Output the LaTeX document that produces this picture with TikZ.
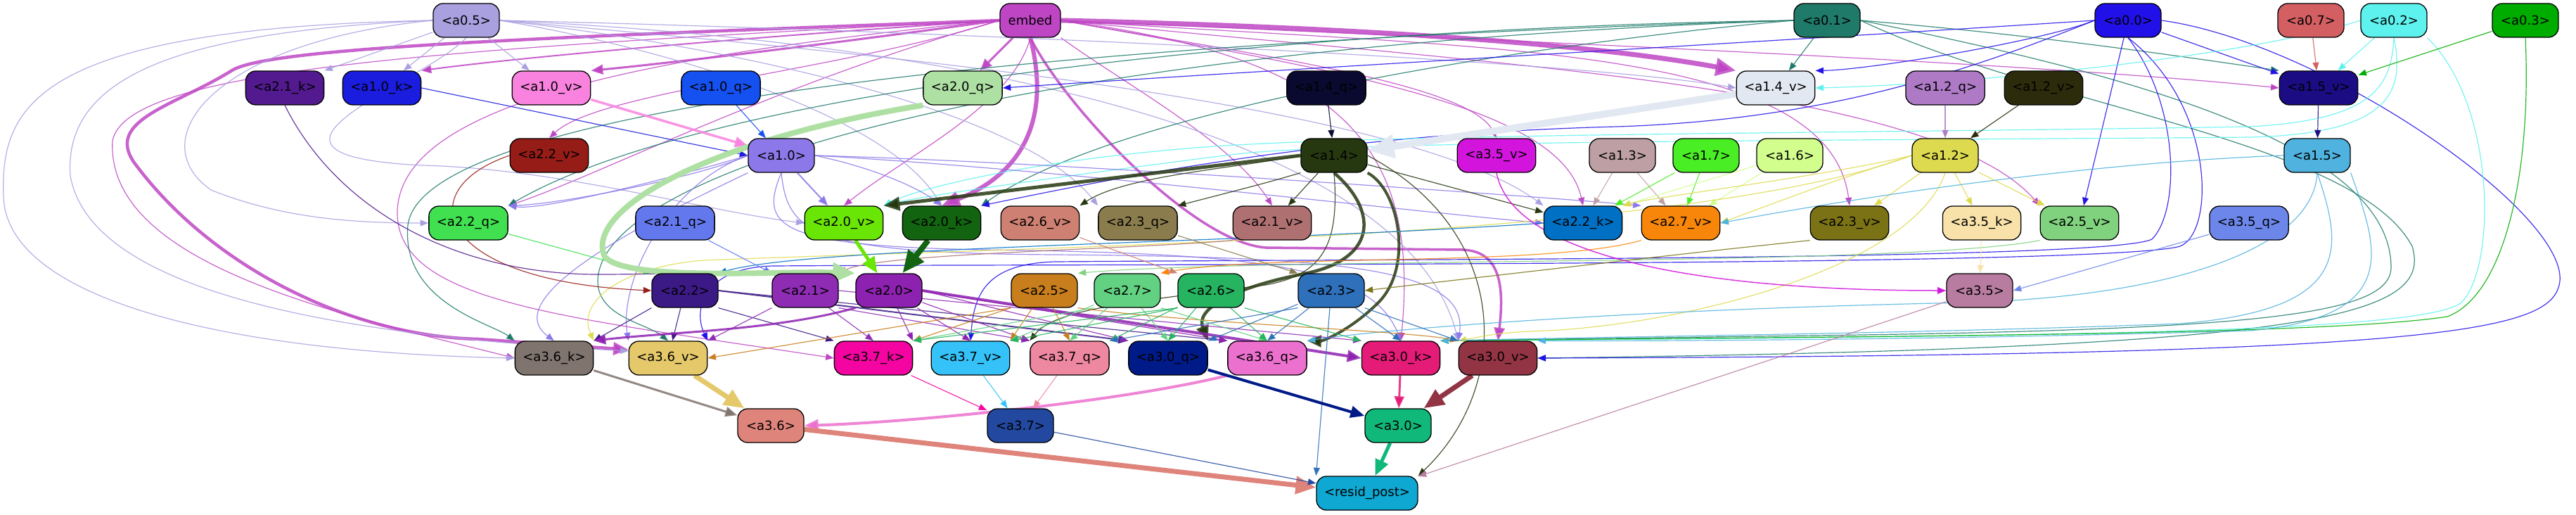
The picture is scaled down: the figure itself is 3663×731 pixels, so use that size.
\documentclass[tikz,border=0pt]{standalone}
\usepackage{fontspec}
\setmainfont{DejaVu Sans}
\usetikzlibrary{arrows.meta}
\pgfdeclarelayer{bg}
\pgfsetlayers{bg,main}
\definecolor{cA05}{HTML}{A9A0E0}
\definecolor{cEmb}{HTML}{BE46C4}
\definecolor{cA01}{HTML}{1F7A6A}
\definecolor{cA00}{HTML}{2210E8}
\definecolor{cA07}{HTML}{D45F63}
\definecolor{cA02}{HTML}{5EF2EE}
\definecolor{cA03}{HTML}{00AC00}
\definecolor{cA21k}{HTML}{521A8E}
\definecolor{cA10k}{HTML}{1A1CDE}
\definecolor{cA10v}{HTML}{F882DE}
\definecolor{cA10q}{HTML}{1550F0}
\definecolor{cA20q}{HTML}{AEE0A4}
\definecolor{cA14q}{HTML}{0A0A30}
\definecolor{cA14v}{HTML}{E2E8F2}
\definecolor{cA12q}{HTML}{AE7AC6}
\definecolor{cA12v}{HTML}{2C2C0C}
\definecolor{cA15v}{HTML}{1C0C84}
\definecolor{cA22v}{HTML}{961C18}
\definecolor{cA10}{HTML}{8C78E8}
\definecolor{cA14}{HTML}{263810}
\definecolor{cA35v}{HTML}{D214DC}
\definecolor{cA13}{HTML}{BEA0A4}
\definecolor{cA17}{HTML}{4AEE24}
\definecolor{cA16}{HTML}{D2FE8E}
\definecolor{cA12}{HTML}{DEDA50}
\definecolor{cA15}{HTML}{50B2DE}
\definecolor{cA22q}{HTML}{40E050}
\definecolor{cA21q}{HTML}{6478EE}
\definecolor{cA20v}{HTML}{6AE606}
\definecolor{cA20k}{HTML}{126410}
\definecolor{cA26v}{HTML}{CE8072}
\definecolor{cA23q}{HTML}{8A7C4C}
\definecolor{cA21v}{HTML}{AE7070}
\definecolor{cA22k}{HTML}{0070C4}
\definecolor{cA27v}{HTML}{F8860A}
\definecolor{cA23v}{HTML}{7A7214}
\definecolor{cA35k}{HTML}{F8E2AA}
\definecolor{cA25v}{HTML}{80D27E}
\definecolor{cA35q}{HTML}{6C86EA}
\definecolor{cA22}{HTML}{3C1A86}
\definecolor{cA21}{HTML}{8E2CB4}
\definecolor{cA20}{HTML}{8E22B0}
\definecolor{cA25}{HTML}{C87E1C}
\definecolor{cA27}{HTML}{62D282}
\definecolor{cA26}{HTML}{26B460}
\definecolor{cA23}{HTML}{2E70BA}
\definecolor{cA35}{HTML}{B87CA0}
\definecolor{cA36k}{HTML}{80746E}
\definecolor{cA36v}{HTML}{E4C86A}
\definecolor{cA37k}{HTML}{F404A0}
\definecolor{cA37v}{HTML}{34C2F8}
\definecolor{cA37q}{HTML}{EE88A0}
\definecolor{cA30q}{HTML}{001A88}
\definecolor{cA36q}{HTML}{EC70CE}
\definecolor{cA30k}{HTML}{E41C78}
\definecolor{cA30v}{HTML}{923444}
\definecolor{cA36}{HTML}{DE847A}
\definecolor{cA37}{HTML}{2248A0}
\definecolor{cA30}{HTML}{10B87A}
\definecolor{cRes}{HTML}{0EA8D2}
\tikzset{
  box/.style={draw=black, line width=1.3pt, rounded corners=14pt, minimum width=94pt,
    minimum height=48pt, inner xsep=11pt, inner ysep=0pt, text=black,
    font=\fontsize{18}{21}\selectfont},
  e/.style={-{Triangle[length=8pt 3,width=6pt 2.6]}, line width=1.2pt, draw opacity=0.85},
}
\begin{document}
\begin{tikzpicture}[x=1pt,y=-1pt]
\useasboundingbox (0,0) rectangle (3663,731);
% row 1
\node[box,fill=cA05] (a05) at (663,29) {<a0.5>};
\node[box,fill=cEmb,minimum width=86pt] (emb) at (1465,29) {embed};
\node[box,fill=cA01] (a01) at (2598,29) {<a0.1>};
\node[box,fill=cA00] (a00) at (3026,29) {<a0.0>};
\node[box,fill=cA07] (a07) at (3286,29) {<a0.7>};
\node[box,fill=cA02] (a02) at (3404,29) {<a0.2>};
\node[box,fill=cA03] (a03) at (3591,29) {<a0.3>};
% row 2
\node[box,fill=cA21k] (a21k) at (405,125) {<a2.1\_k>};
\node[box,fill=cA10k] (a10k) at (543,125) {<a1.0\_k>};
\node[box,fill=cA10v] (a10v) at (784,125) {<a1.0\_v>};
\node[box,fill=cA10q] (a10q) at (1025,125) {<a1.0\_q>};
\node[box,fill=cA20q] (a20q) at (1369,125) {<a2.0\_q>};
\node[box,fill=cA14q] (a14q) at (1886,125) {<a1.4\_q>};
\node[box,fill=cA14v] (a14v) at (2525,125) {<a1.4\_v>};
\node[box,fill=cA12q] (a12q) at (2766,125) {<a1.2\_q>};
\node[box,fill=cA12v] (a12v) at (2906,125) {<a1.2\_v>};
\node[box,fill=cA15v] (a15v) at (3297,125) {<a1.5\_v>};
% row 3
\node[box,fill=cA22v] (a22v) at (781,221) {<a2.2\_v>};
\node[box,fill=cA10] (a10) at (1111,221) {<a1.0>};
\node[box,fill=cA14] (a14) at (1897,221) {<a1.4>};
\node[box,fill=cA35v] (a35v) at (2128,221) {<a3.5\_v>};
\node[box,fill=cA13] (a13) at (2307,221) {<a1.3>};
\node[box,fill=cA17] (a17) at (2426,221) {<a1.7>};
\node[box,fill=cA16] (a16) at (2545,221) {<a1.6>};
\node[box,fill=cA12] (a12) at (2766,221) {<a1.2>};
\node[box,fill=cA15] (a15) at (3295,221) {<a1.5>};
% row 4
\node[box,fill=cA22q] (a22q) at (666,317) {<a2.2\_q>};
\node[box,fill=cA21q] (a21q) at (960,317) {<a2.1\_q>};
\node[box,fill=cA20v] (a20v) at (1200,317) {<a2.0\_v>};
\node[box,fill=cA20k] (a20k) at (1339,317) {<a2.0\_k>};
\node[box,fill=cA26v] (a26v) at (1479,317) {<a2.6\_v>};
\node[box,fill=cA23q] (a23q) at (1618,317) {<a2.3\_q>};
\node[box,fill=cA21v] (a21v) at (1809,317) {<a2.1\_v>};
\node[box,fill=cA22k] (a22k) at (2251,317) {<a2.2\_k>};
\node[box,fill=cA27v] (a27v) at (2390,317) {<a2.7\_v>};
\node[box,fill=cA23v] (a23v) at (2630,317) {<a2.3\_v>};
\node[box,fill=cA35k] (a35k) at (2818,317) {<a3.5\_k>};
\node[box,fill=cA25v] (a25v) at (2957,317) {<a2.5\_v>};
\node[box,fill=cA35q] (a35q) at (3198,317) {<a3.5\_q>};
% row 5
\node[box,fill=cA22] (a22) at (974,413) {<a2.2>};
\node[box,fill=cA21] (a21) at (1145,413) {<a2.1>};
\node[box,fill=cA20] (a20) at (1264,413) {<a2.0>};
\node[box,fill=cA25] (a25) at (1485,413) {<a2.5>};
\node[box,fill=cA27] (a27) at (1603,413) {<a2.7>};
\node[box,fill=cA26] (a26) at (1722,413) {<a2.6>};
\node[box,fill=cA23] (a23) at (1893,413) {<a2.3>};
\node[box,fill=cA35] (a35) at (2815,413) {<a3.5>};
% row 6
\node[box,fill=cA36k] (a36k) at (788,509) {<a3.6\_k>};
\node[box,fill=cA36v] (a36v) at (950,509) {<a3.6\_v>};
\node[box,fill=cA37k] (a37k) at (1242,509) {<a3.7\_k>};
\node[box,fill=cA37v] (a37v) at (1380,509) {<a3.7\_v>};
\node[box,fill=cA37q] (a37q) at (1521,509) {<a3.7\_q>};
\node[box,fill=cA30q] (a30q) at (1661,509) {<a3.0\_q>};
\node[box,fill=cA36q] (a36q) at (1802,509) {<a3.6\_q>};
\node[box,fill=cA30k] (a30k) at (1992,509) {<a3.0\_k>};
\node[box,fill=cA30v] (a30v) at (2130,509) {<a3.0\_v>};
% row 7-8
\node[box,fill=cA36] (a36) at (1096,605) {<a3.6>};
\node[box,fill=cA37] (a37) at (1451,605) {<a3.7>};
\node[box,fill=cA30] (a30) at (1988,605) {<a3.0>};
\node[box,fill=cRes] (res) at (1944,701) {<resid\_post>};

\begin{pgfonlayer}{bg}
% ---- embed
\draw[e,cEmb,line width=3pt] (emb) -- (a20q);
\draw[e,cEmb,line width=6pt] (emb.south) .. controls (1490,150) and (1470,240) .. (a20k.north);
\draw[e,cEmb,line width=3.5pt] (emb.south) .. controls (1520,160) and (1700,345) .. (1800,352) -- (2080,355) .. controls (2130,357) and (2140,400) .. (a30v.north);
\draw[e,cEmb,line width=7pt] (emb.east) .. controls (1900,38) and (2250,60) .. (a14v.north west);
\draw[e,cEmb,line width=4.5pt] (emb.west) .. controls (700,55) and (380,70) .. (330,100) .. controls (250,150) and (150,170) .. (190,230) .. controls (300,380) and (500,478) .. (680,482) -- ([yshift=12pt]a36v.west);
\draw[e,cEmb,line width=3pt] (emb.west) .. controls (1200,60) and (950,90) .. (a10v.north east);
\draw[e,cEmb,line width=2pt] (emb.west) .. controls (1100,50) and (750,80) .. (a10k.north east);
\draw[e,cEmb] (emb.west) .. controls (1200,100) and (850,130) .. (a22v.north);
\draw[e,cEmb] (emb.west) .. controls (1100,120) and (850,250) .. (a22q.north east);
\draw[e,cEmb] (emb.south) .. controls (1440,150) and (1290,220) .. (a20v.north);
\draw[e,cEmb] (emb.south east) .. controls (1600,120) and (1750,200) .. (a21v.north);
\draw[e,cEmb] (emb.east) .. controls (1800,80) and (2090,120) .. (a35v.north);
\draw[e,cEmb] (emb.east) .. controls (1900,100) and (2220,150) .. (a22k.north);
\draw[e,cEmb] (emb.east) .. controls (2100,70) and (2600,60) .. (a23v.north);
\draw[e,cEmb] (emb.east) .. controls (2100,90) and (2750,120) .. (a25v.north west);
\draw[e,cEmb] (emb.east) .. controls (2200,60) and (2900,90) .. (a15v.west);
\draw[e,cEmb] (emb.east) .. controls (1900,80) and (2020,200) .. (a30k.north);
\draw[e,cEmb] (emb.west) .. controls (600,70) and (180,100) .. (160,200) .. controls (150,380) and (500,450) .. (a36k.west);
\draw[e,cEmb] (emb.west) .. controls (900,80) and (570,150) .. (565,300) .. controls (562,430) and (800,450) .. (a37k.west);
% ---- a0.5
\draw[e,cA05] (a05) -- (a21k.north east);
\draw[e,cA05] (a05) -- (a10k);
\draw[e,cA05] (a05) -- (a10v);
\draw[e,cA05] (a05.west) .. controls (50,40) and (0,150) .. (5,280) .. controls (10,420) and (300,500) .. (a36k.west);
\draw[e,cA05] (a05.west) .. controls (250,45) and (90,110) .. (100,250) .. controls (130,420) and (500,478) .. ([yshift=10pt]a36v.west);
\draw[e,cA05] (a05.west) .. controls (300,60) and (200,200) .. (300,270) .. controls (400,310) and (500,317) .. (a22q.west);
\draw[e,cA05] (a05.south) .. controls (600,120) and (300,220) .. (600,235) .. controls (800,240) and (1000,300) .. (a20v.west);
\draw[e,cA05] (a05.east) .. controls (1200,40) and (2200,80) .. (a14v.west);
\draw[e,cA05] (a05.east) .. controls (1000,60) and (1450,150) .. (a23q.north west);
\draw[e,cA05] (a05.east) .. controls (1300,80) and (2000,150) .. (a22k.north west);
\draw[e,cA05] (a05.east) .. controls (900,60) and (1250,150) .. (a20k.north);
\draw[e,cA05] (a05.east) .. controls (1400,60) and (2000,200) .. (a30v.north west);
% ---- a0.1
\draw[e,cA01] (a01) -- (a14v);
\draw[e,cA01] (a01.west) .. controls (1800,40) and (1000,130) .. (a22q.north east);
\draw[e,cA01] (a01.west) .. controls (2200,60) and (1600,150) .. (a20k.north east);
\draw[e,cA01] (a01.east) .. controls (2900,50) and (3100,80) .. (a15v.north west);
\draw[e,cA01] (a01.west) .. controls (1500,60) and (600,150) .. (580,320) .. controls (570,430) and (700,460) .. (a36k.north west);
\draw[e,cA01] (a01.west) .. controls (1400,70) and (850,250) .. (850,400) .. controls (850,450) and (920,460) .. (a36v.north);
\draw[e,cA01] (a01.east) .. controls (3000,100) and (3400,200) .. (3400,380) .. controls (3400,450) and (3200,470) .. (2500,478) -- (a30k.north east);
\draw[e,cA01] (a01.east) .. controls (2900,150) and (3350,200) .. (3430,350) .. controls (3460,450) and (3300,495) .. (a30v.east);
% ---- a0.0
\draw[e,cA00] (a00.west) .. controls (2900,60) and (2650,100) .. (a14v.north east);
\draw[e,cA00] (a00.west) .. controls (2500,60) and (1800,100) .. (a20q.east);
\draw[e,cA00] (a00.west) .. controls (2800,100) and (2600,170) .. (2300,180) .. controls (1900,190) and (1600,250) .. (a20k.north east);
\draw[e,cA00] (a00) -- (a15v);
\draw[e,cA00] (a00) -- (a25v);
\draw[e,cA00] (a00.east) .. controls (3300,60) and (3650,300) .. (3640,400) .. controls (3630,470) and (3500,505) .. (a30v.east);
\draw[e,cA00] (a00.south) .. controls (3100,150) and (3100,300) .. (3060,340) .. controls (3000,370) and (2000,368) .. (1500,372) .. controls (1400,375) and (1385,420) .. (a37v.north);
\draw[e,cA00] (a00.south) .. controls (3150,150) and (3150,330) .. (3100,350) .. controls (3000,380) and (1500,375) .. (1100,378) .. controls (1000,380) and (985,440) .. (a36v.north east);
% ---- a0.7, a0.2, a0.3
\draw[e,cA07] (a07) -- (a15v);
\draw[e,cA02] (a02) -- (a15v);
\draw[e,cA02] (a02.west) .. controls (3200,80) and (2800,120) .. (a14v.east);
\draw[e,cA02] (a02.south) .. controls (3400,120) and (3380,170) .. (3200,180) .. controls (2600,190) and (1950,190) .. (1700,210) .. controls (1450,230) and (1300,270) .. (a20v.north east);
\draw[e,cA02] (a02.south) .. controls (3420,130) and (3400,190) .. (3200,195) .. controls (2600,200) and (1900,200) .. (1750,220) .. controls (1550,245) and (1300,280) .. (a20v.north east);
\draw[e,cA02] (a02.south east) .. controls (3550,150) and (3550,380) .. (3500,430) .. controls (3450,470) and (3000,478) .. (a30k.north east);
\draw[e,cA03] (a03) -- (a15v);
\draw[e,cA03] (a03.south) .. controls (3600,250) and (3560,420) .. (3480,450) .. controls (3300,478) and (2600,478) .. (a30k.north east);
% ---- layer-1 inputs
\draw[e,cA10k] (a10k.east) -- (a10.west);
\draw[e,cA10v,line width=3.5pt] (a10v) -- (a10);
\draw[e,cA10q] (a10q) -- (a10);
\draw[e,cA14q] (a14q) -- (a14);
\draw[e,cA14v,line width=10pt,draw opacity=1] (a14v) -- (a14);
\draw[e,cA12q] (a12q) -- (a12);
\draw[e,cA12v] (a12v) -- (a12);
\draw[e,cA15v] (a15v) -- (a15);
% ---- a1.0
\draw[e,cA10,line width=2pt] (a10) -- (a20v);
\draw[e,cA10] (a10.west) .. controls (1000,250) and (800,290) .. (a22q.north east);
\draw[e,cA10] (a10.west) .. controls (1000,240) and (780,300) .. (a22q.north east);
\draw[e,cA10] (a10.south west) .. controls (950,300) and (700,420) .. (a36k.north);
\draw[e,cA10] (a10.west) .. controls (950,260) and (880,400) .. (a36v.north west);
\draw[e,cA10] (a10.east) .. controls (1250,240) and (1310,270) .. (a20k.north);
\draw[e,cA10] (a10.east) .. controls (1500,240) and (2000,300) .. (a22k.west);
\draw[e,cA10] (a10.east) .. controls (1500,230) and (2200,280) .. (a27v.north west);
\draw[e,cA10] (a10.south) .. controls (1080,320) and (1100,350) .. (1400,355) .. controls (1800,360) and (1950,380) .. (a30k.north);
\draw[e,cA10] (a10.south) .. controls (1120,330) and (1150,360) .. (1500,362) .. controls (1900,365) and (2090,380) .. (a30v.north west);
% ---- a1.4
\draw[e,cA14,line width=5pt] (a14.west) -- (a20v.north east);
\draw[e,cA14] (a14.west) .. controls (1750,240) and (1600,250) .. (a26v.north east);
\draw[e,cA14] (a14.south west) .. controls (1800,260) .. (a23q.north east);
\draw[e,cA14] (a14) -- (a21v);
\draw[e,cA14] (a14) -- (a22k);
\draw[e,cA14,line width=4.5pt] (a14.south) .. controls (1960,300) and (1960,370) .. (1850,390) .. controls (1750,410) and (1700,440) .. (a30q.north east);
\draw[e,cA14,line width=4pt] (a14.south east) .. controls (1990,270) and (2010,380) .. (1960,430) .. controls (1920,470) and (1880,485) .. (a36q.north east);
\draw[e,cA14] (a14.east) .. controls (2150,330) and (2150,550) .. (res.north east);
\draw[e,cA14] (a14.south) .. controls (1905,350) and (1880,390) .. (1800,405) .. controls (1600,430) and (1500,440) .. (a37q.north west);
% ---- a1.3 a1.7 a1.6
\draw[e,cA13] (a13) -- (a22k);
\draw[e,cA13] (a13) -- (a27v);
\draw[e,cA17] (a17) -- (a22k);
\draw[e,cA17] (a17) -- (a27v);
\draw[e,cA16] (a16) -- (a22k.north east);
\draw[e,cA16] (a16) -- (a27v);
% ---- a1.2
\draw[e,cA12] (a12.west) .. controls (2600,260) .. (a27v.east);
\draw[e,cA12] (a12) -- (a23v);
\draw[e,cA12] (a12) -- (a35k);
\draw[e,cA12] (a12) -- (a25v);
\draw[e,cA12] (a12.west) .. controls (2600,250) and (2350,280) .. (a22k.north east);
\draw[e,cA12] (a12.west) .. controls (2400,340) and (1500,350) .. (1000,370) .. controls (880,380) and (820,430) .. (a36k.north east);
\draw[e,cA12] (a12.south) .. controls (2720,380) and (2400,460) .. (2200,470) .. controls (2130,472) and (2110,478) .. (a30v.north west);
% ---- a1.5
\draw[e,cA15] (a15.west) .. controls (3000,230) and (2700,270) .. (a27v.east);
\draw[e,cA15] (a15.south) .. controls (3290,350) and (3100,420) .. (2800,430) .. controls (2300,440) and (1950,470) .. (a36q.north east);
\draw[e,cA15] (a15.south) .. controls (3330,350) and (3350,440) .. (3100,460) .. controls (2700,475) and (2300,478) .. (a30k.north east);
\draw[e,cA15] (a15.south east) .. controls (3380,350) and (3420,450) .. (3200,470) .. controls (2800,482) and (2400,485) .. (a30v.north east);
% ---- layer-2 inputs
\draw[e,cA22v] (a22v.west) .. controls (580,270) and (620,400) .. (a22.west);
\draw[e,cA22q] (a22q) -- (a22.north west);
\draw[e,cA22k] (a22k.west) .. controls (1800,345) and (1150,350) .. (a22.north east);
\draw[e,cA21k] (a21k.south) .. controls (480,300) and (650,390) .. (850,390) .. controls (950,390) and (1050,385) .. (a21.north west);
\draw[e,cA21q] (a21q) -- (a21);
\draw[e,cA21v] (a21v.south west) .. controls (1600,355) and (1250,360) .. (a21.north east);
\draw[e,cA20q,line width=8pt,draw opacity=1] (a20q.south west) .. controls (1000,200) and (830,300) .. (860,365) .. controls (890,400) and (1100,385) .. (a20.north west);
\draw[e,cA20v,line width=5pt,draw opacity=1] (a20v) -- (a20);
\draw[e,cA20k,line width=8pt,draw opacity=1] (a20k) -- (a20);
\draw[e,cA25v] (a25v.south west) .. controls (2700,380) and (1800,365) .. (a25.north east);
\draw[e,cA27v] (a27v.south west) .. controls (2200,380) and (1800,360) .. (a27.north east);
\draw[e,cA26v] (a26v) -- (a26.north west);
\draw[e,cA23q] (a23q) -- (a23.north west);
\draw[e,cA23v] (a23v.south west) .. controls (2400,360) .. (a23.east);
\draw[e,cA35v,line width=1.5pt] (a35v.south) .. controls (2150,360) and (2400,413) .. (a35.west);
\draw[e,cA35k] (a35k) -- (a35);
\draw[e,cA35q] (a35q) -- (a35.east);
% ---- layer-2 outputs
\draw[e,cA22] (a22.south west) -- (a36k.north east);
\draw[e,cA22] (a22) -- (a36v);
\draw[e,cA22] (a22.south east) -- (a37k.north west);
\draw[e,cA22,line width=2pt] (a22.east) -- (a30q.north west);
\draw[e,cA22] (a22.east) -- (a36q.north west);
\draw[e,cA21] (a21.south west) -- (a36v.north east);
\draw[e,cA21] (a21) -- (a37k.north);
\draw[e,cA21] (a21.south east) -- (a37q.north west);
\draw[e,cA21] (a21.east) -- (a30k.north west);
\draw[e,cA20,line width=3pt] (a20.south west) .. controls (1100,470) and (950,472) .. (a36k.north east);
\draw[e,cA20] (a20) -- (a37k.north east);
\draw[e,cA20] (a20) -- (a37v.north);
\draw[e,cA20] (a20) -- (a37q.north west);
\draw[e,cA20] (a20.east) -- (a30q.north west);
\draw[e,cA20,line width=4pt] (a20.east) -- (a30k.west);
\draw[e,cA20] (a20.east) -- (a36q.north west);
\draw[e,cA25] (a25.south west) -- (a36v.east);
\draw[e,cA25] (a25) -- (a37v.north east);
\draw[e,cA25] (a25) -- (a37q.north);
\draw[e,cA25] (a25.south west) -- (a37k.north east);
\draw[e,cA25] (a25.south east) .. controls (1700,460) and (2000,470) .. (a30v.north west);
\draw[e,cA27] (a27) -- (a37v.north east);
\draw[e,cA27] (a27) -- (a37q.north);
\draw[e,cA27] (a27) -- (a30q.north);
\draw[e,cA27] (a27.south east) -- (a36q.north);
\draw[e,cA27] (a27.south west) -- (a37k.north east);
\draw[e,cA26] (a26.south west) -- (a37k.north east);
\draw[e,cA26] (a26) -- (a37q.north east);
\draw[e,cA26] (a26) -- (a30q.north);
\draw[e,cA26] (a26) -- (a36q.north);
\draw[e,cA26] (a26.south east) -- (a30k.north west);
\draw[e,cA26] (a26.south west) -- (a37v.north east);
\draw[e,cA23] (a23.south west) -- (a37q.north east);
\draw[e,cA23] (a23) -- (a30q.north east);
\draw[e,cA23] (a23) -- (a36q.north);
\draw[e,cA23] (a23) -- (a30k.north);
\draw[e,cA23] (a23.south east) -- (a30v.north west);
\draw[e,cA23] (a23) -- (res.north west);
% ---- layer-3
\draw[e,cA36k,line width=3pt] (a36k) -- (a36);
\draw[e,cA36v,line width=7pt,draw opacity=1] (a36v) -- (a36);
\draw[e,cA36q,line width=4pt] (a36q.south west) .. controls (1600,570) and (1300,600) .. (a36.east);
\draw[e,cA37k] (a37k) -- (a37);
\draw[e,cA37v] (a37v) -- (a37);
\draw[e,cA37q] (a37q) -- (a37);
\draw[e,cA30q,line width=4pt,draw opacity=1] (a30q) -- (a30);
\draw[e,cA30k,line width=3pt] (a30k) -- (a30);
\draw[e,cA30v,line width=7pt,draw opacity=1] (a30v) -- (a30);
\draw[e,cA30,line width=5pt,draw opacity=1] (a30) -- (res);
\draw[e,cA36,line width=7pt,draw opacity=1] (a36) -- (res);
\draw[e,cA37] (a37) -- (res);
\draw[e,cA35] (a35) -- (res);
\end{pgfonlayer}
\end{tikzpicture}
\end{document}
